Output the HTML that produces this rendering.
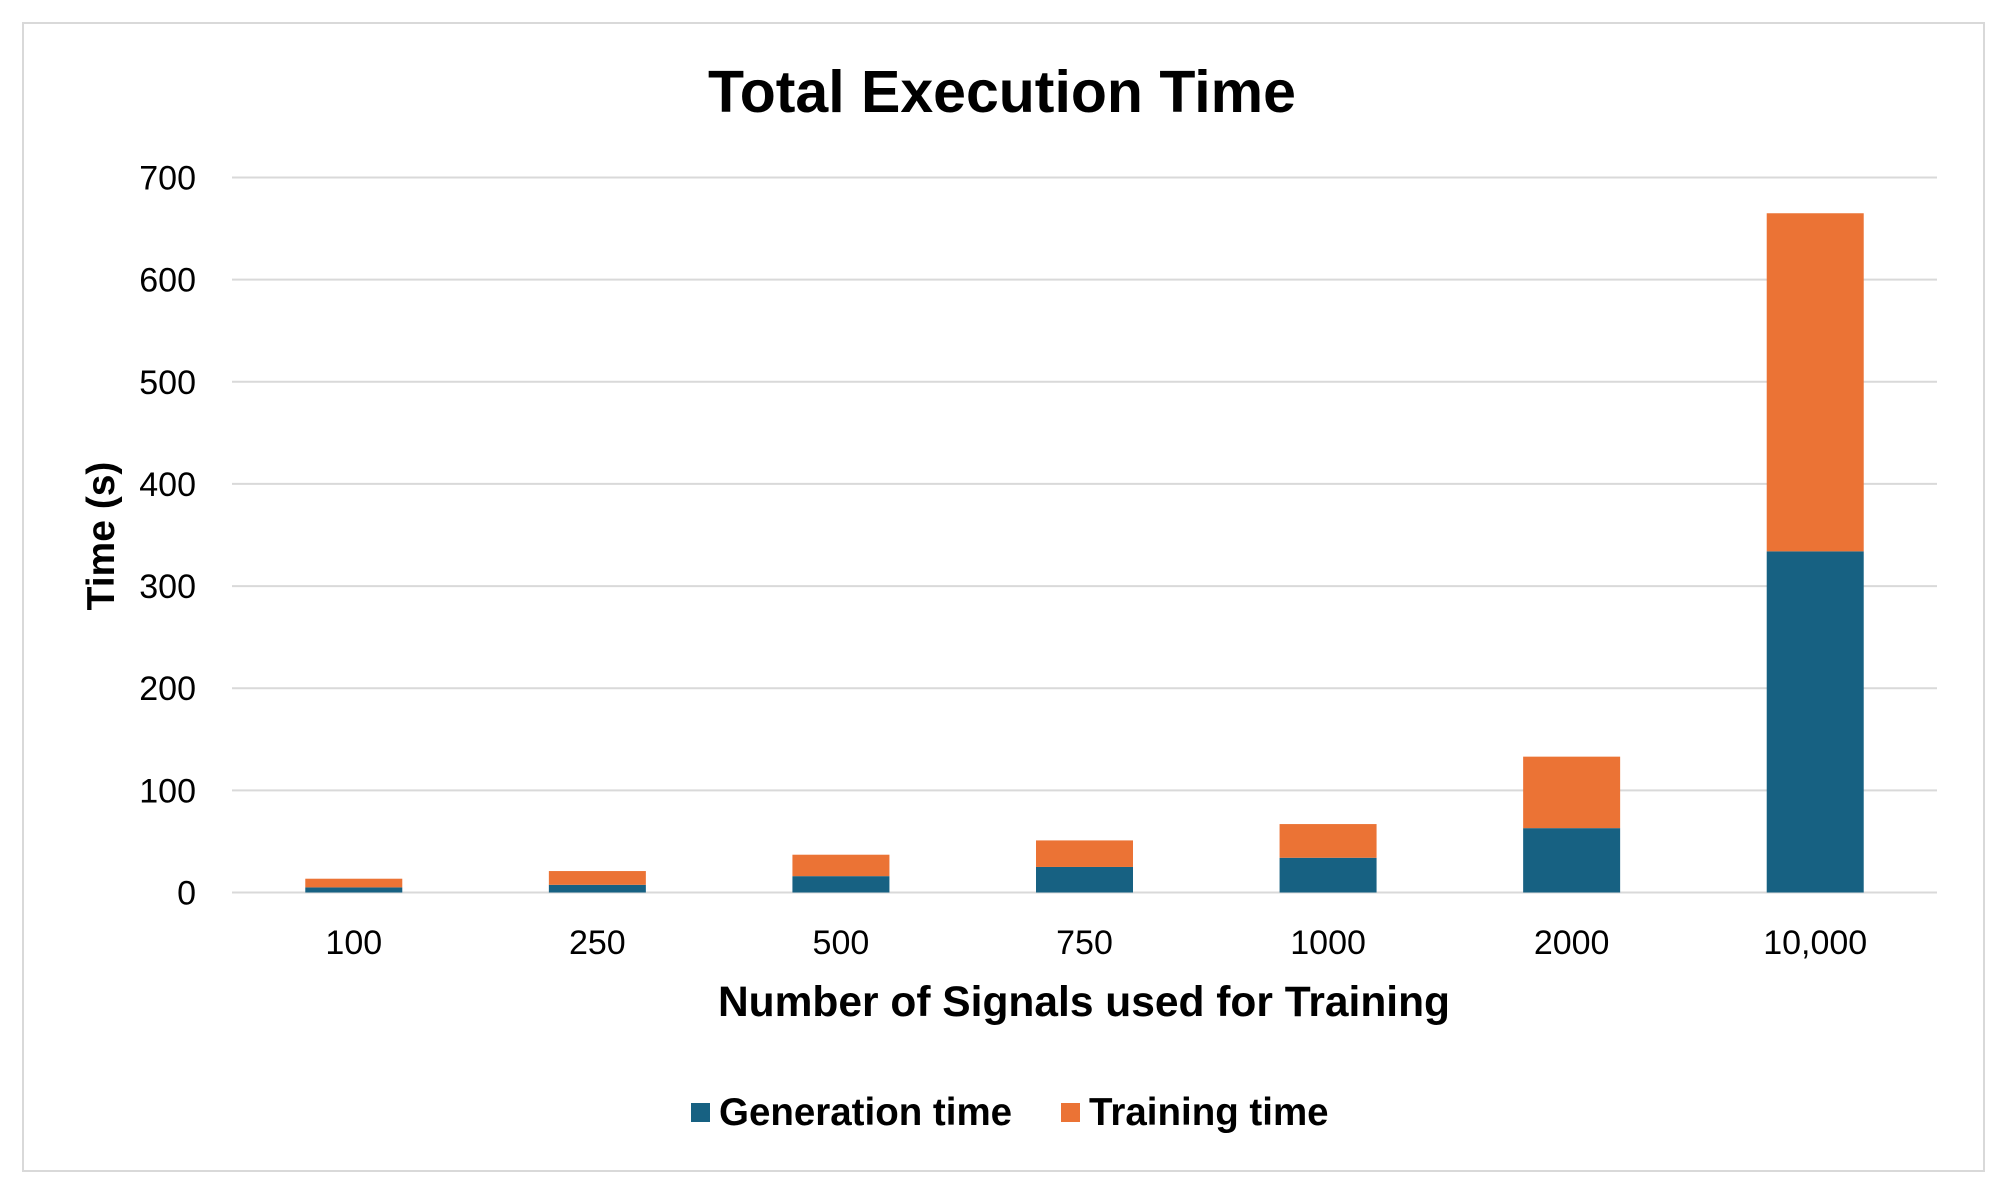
<!DOCTYPE html>
<html><head><meta charset="utf-8"><style>
html,body{margin:0;padding:0;background:#fff;}
svg{display:block;font-family:"Liberation Sans",Arial,sans-serif;}
</style></head><body>
<svg id="chart" width="2002" height="1191" viewBox="0 0 2002 1191">
<rect x="23" y="23" width="1961" height="1148" fill="#fff" stroke="#d9d9d9" stroke-width="2"/>
<text x="1002" y="112" text-anchor="middle" font-size="59" font-weight="bold" fill="#000">Total Execution Time</text>
<g id="grid"></g>
<g id="yticks"></g>
<g id="bars"></g>
<g id="xticks"></g>
<text transform="translate(114,536) rotate(-90)" text-anchor="middle" font-size="39" font-weight="bold" fill="#000">Time (s)</text>
<text x="1084" y="1016" text-anchor="middle" font-size="42.5" font-weight="bold" fill="#000">Number of Signals used for Training</text>
<g>
<g>
<rect x="691" y="1103" width="19" height="19" fill="#176182"/>
<text x="719" y="1125" font-size="38.5" font-weight="bold" fill="#000">Generation time</text>
</g>
<g>
<rect x="1061" y="1103" width="19" height="19" fill="#eb7335"/>
<text x="1089" y="1125" font-size="38.5" font-weight="bold" fill="#000">Training time</text>
</g>
</g>
</svg>
<script>
const categories = ["100","250","500","750","1000","2000","10,000"];
const generationTime = [5, 7.5, 16, 25, 34, 63, 334];
const trainingTime = [8.5, 13.5, 21, 26, 33, 70, 331];
const yTicks = [0,100,200,300,400,500,600,700];

const NS="http://www.w3.org/2000/svg";
const plotL=232, plotR=1937, y0=892.5, yTop=177.5, yMax=700;
const bandW=(plotR-plotL)/categories.length, barW=97;
function yScale(v){return y0-(v/yMax)*(y0-yTop);}
function xCenter(i){return plotL+bandW*(i+0.5);}
function mk(tag,attrs){const e=document.createElementNS(NS,tag);for(const k in attrs)e.setAttribute(k,attrs[k]);return e;}
const grid=document.getElementById('grid'),yt=document.getElementById('yticks'),bars=document.getElementById('bars'),xt=document.getElementById('xticks');
yTicks.forEach(v=>{
  const y=yScale(v);
  const l=mk('line',{x1:plotL,x2:plotR,y1:y,y2:y,stroke:'#d9d9d9','stroke-width':2});
  
  
  grid.appendChild(l);
  const t=mk('text',{x:196,y:y+12,'text-anchor':'end','font-size':34,fill:'#000'});
  t.textContent=v;
  
  
  yt.appendChild(t);
});
categories.forEach((c,i)=>{
  const cx=xCenter(i), x=cx-barW/2;
  const g=generationTime[i], tr=trainingTime[i];
  const r1=mk('rect',{x:x,y:yScale(g),width:barW,height:y0-yScale(g),fill:'#176182'});
  
  
  bars.appendChild(r1);
  const r2=mk('rect',{x:x,y:yScale(g+tr),width:barW,height:yScale(g)-yScale(g+tr),fill:'#eb7335'});
  
  
  bars.appendChild(r2);
  const t=mk('text',{x:cx,y:954,'text-anchor':'middle','font-size':34,fill:'#000'});
  t.textContent=c;
  
  
  xt.appendChild(t);
});
</script>
</body></html>
